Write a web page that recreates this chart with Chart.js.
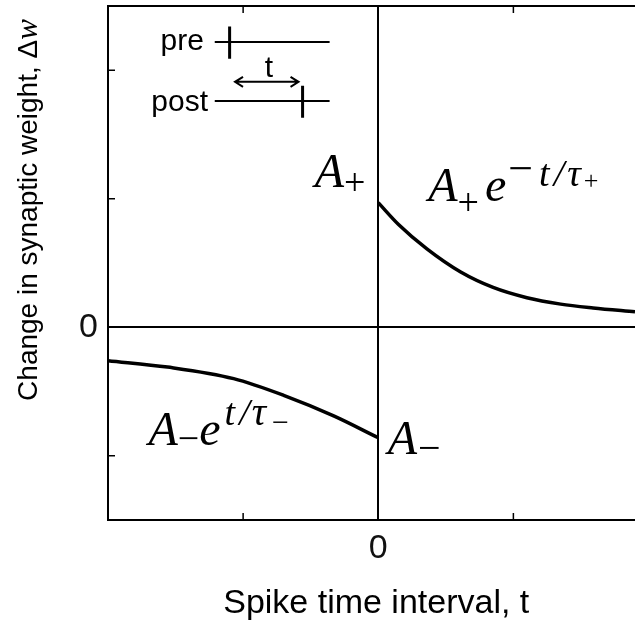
<!DOCTYPE html>
<html>
<head>
<meta charset="utf-8">
<script src="https://cdn.jsdelivr.net/npm/chart.js@4.4.1/dist/chart.umd.min.js"></script>
<style>
  html, body { margin: 0; padding: 0; background: #fff; }
  #wrap { width: 635px; height: 621px; }
</style>
</head>
<body>
<div id="wrap"><canvas id="stdpCanvas" width="635" height="621"></canvas></div>
<script>
// STDP window: weight change vs. spike time interval

// t > 0 branch (pre before post): potentiation A+ e^{-t/tau+}
const tPlus = [0, 0.15, 0.36, 0.61, 0.85, 1.1, 1.35, 1.59, 1.9];
const wPlus = [0.97, 0.80, 0.61, 0.43, 0.31, 0.23, 0.18, 0.15, 0.12];

// t < 0 branch (post before pre): depression A- e^{t/tau-}
const tMinus = [-2, -1.56, -1.07, -0.70, -0.33, 0];
const wMinus = [-0.26, -0.31, -0.40, -0.53, -0.69, -0.86];

// axes
const xTicks = [-1, 0, 1];
const yTicks = [-1, 0, 1, 2];
const tickLabels = { 0: '0' };
const xTitle = 'Spike time interval, t';
const yTitle = 'Change in synaptic weight, \u0394';

const SANS = '"Liberation Sans", Arial, sans-serif';
const SERIF = '"Liberation Serif", "Times New Roman", serif';

// draw a row of text pieces (math label) left to right
function drawRun(ctx, x0, base, parts) {
  let x = x0;
  parts.forEach(p => {
    ctx.font = (p.it ? 'italic ' : '') + p.size + 'px ' + (p.font || SERIF);
    ctx.fillText(p.s, x, base + (p.dy || 0));
    x += ctx.measureText(p.s).width + (p.gap || 0);
  });
  return x;
}

const stdpDecor = {
  id: 'stdpDecor',
  afterDraw(chart) {
    const { ctx, chartArea: a, scales: { x, y } } = chart;
    const px = v => x.getPixelForValue(v);
    const py = v => y.getPixelForValue(v);
    ctx.save();
    ctx.strokeStyle = '#000';
    ctx.fillStyle = '#000';
    ctx.textAlign = 'left';
    ctx.textBaseline = 'alphabetic';

    // top frame line
    ctx.lineWidth = 2;
    ctx.beginPath();
    ctx.moveTo(a.left, a.top);
    ctx.lineTo(a.right, a.top);
    ctx.stroke();

    // inward tick marks
    ctx.lineWidth = 1.5;
    ctx.beginPath();
    xTicks.filter(v => v !== 0).forEach(v => {
      ctx.moveTo(px(v), a.bottom); ctx.lineTo(px(v), a.bottom - 7);
      ctx.moveTo(px(v), a.top); ctx.lineTo(px(v), a.top + 7);
    });
    yTicks.filter(v => v !== 0).forEach(v => {
      ctx.moveTo(a.left, py(v)); ctx.lineTo(a.left + 7, py(v));
    });
    ctx.stroke();

    // inset: pre / post spike trains
    ctx.lineWidth = 2;
    ctx.beginPath();
    ctx.moveTo(px(-1.21), py(2.22)); ctx.lineTo(px(-0.36), py(2.22));
    ctx.moveTo(px(-1.21), py(1.76)); ctx.lineTo(px(-0.36), py(1.76));
    ctx.stroke();
    ctx.lineWidth = 3;
    ctx.beginPath();
    ctx.moveTo(px(-1.10), py(2.34)); ctx.lineTo(px(-1.10), py(2.09));
    ctx.moveTo(px(-0.56), py(1.88)); ctx.lineTo(px(-0.56), py(1.63));
    ctx.stroke();
    // double arrow for t
    const ay = py(1.91), ax0 = px(-1.06), ax1 = px(-0.59);
    ctx.lineWidth = 2;
    ctx.beginPath();
    ctx.moveTo(ax0, ay); ctx.lineTo(ax1, ay);
    ctx.moveTo(ax0 + 8, ay - 5); ctx.lineTo(ax0, ay); ctx.lineTo(ax0 + 8, ay + 5);
    ctx.moveTo(ax1 - 8, ay - 5); ctx.lineTo(ax1, ay); ctx.lineTo(ax1 - 8, ay + 5);
    ctx.stroke();
    ctx.font = '30px ' + SANS;
    ctx.textAlign = 'right';
    ctx.fillText('pre', px(-1.29), py(2.16));
    ctx.fillText('post', px(-1.26), py(1.68));
    ctx.textAlign = 'center';
    ctx.fillText('t', px(-0.81), py(1.95));
    ctx.textAlign = 'left';

    // formula labels
    const MINUS = '\u2212', TAU = '\u03c4';
    drawRun(ctx, px(-0.47), py(1.09), [
      { s: 'A', it: true, size: 48, gap: 0 },
      { s: '+', size: 38, dy: 8 }
    ]);
    drawRun(ctx, px(0.37), py(0.98), [
      { s: 'A', it: true, size: 48, gap: 0 },
      { s: '+', size: 38, dy: 14, gap: 6 },
      { s: 'e', it: true, size: 48, gap: 2 },
      { s: MINUS, size: 44, dy: -18, gap: 6 },
      { s: 't', it: true, size: 38, dy: -15, gap: 4 },
      { s: '/', it: true, size: 38, dy: -15, gap: 3 },
      { s: TAU, it: true, size: 38, dy: -15, gap: 3 },
      { s: '+', size: 26, dy: -12 }
    ]);
    drawRun(ctx, px(-1.70), py(-0.92), [
      { s: 'A', it: true, size: 48, gap: 0 },
      { s: MINUS, size: 38, dy: 6 },
      { s: 'e', it: true, size: 48, gap: 4 },
      { s: 't', it: true, size: 38, dy: -20, gap: 4 },
      { s: '/', it: true, size: 38, dy: -20, gap: 2 },
      { s: TAU, it: true, size: 40, dy: -20, gap: 6 },
      { s: MINUS, size: 30, dy: -13 }
    ]);
    drawRun(ctx, px(0.07), py(-0.99), [
      { s: 'A', it: true, size: 48, gap: 1 },
      { s: MINUS, size: 40, dy: 7 }
    ]);

    // axis titles
    ctx.font = '34px ' + SANS;
    ctx.textAlign = 'center';
    ctx.fillText(xTitle, px(0) - 2, chart.height - 8);

    ctx.save();
    ctx.translate(37, a.top + 204);
    ctx.rotate(-Math.PI / 2);
    ctx.font = '28px ' + SANS;
    const w1 = ctx.measureText(yTitle).width;
    ctx.font = 'italic 31px ' + SERIF;
    const w2 = ctx.measureText('w').width;
    ctx.textAlign = 'left';
    ctx.font = '28px ' + SANS;
    ctx.fillText(yTitle, -(w1 + w2) / 2, 0);
    ctx.font = 'italic 31px ' + SERIF;
    ctx.fillText('w', -(w1 + w2) / 2 + w1, 0);
    ctx.restore();

    ctx.restore();
  }
};

const zeroGrid = c => (c.tick && c.tick.value === 0 ? '#000' : 'rgba(0,0,0,0)');

new Chart(document.getElementById('stdpCanvas').getContext('2d'), {
  type: 'line',
  data: {
    datasets: [
      {
        label: 'A+ e^{-t/tau+}',
        data: tPlus.map((t, i) => ({ x: t, y: wPlus[i] })),
        borderColor: '#000',
        borderWidth: 3.5,
        pointRadius: 0,
        fill: false,
        cubicInterpolationMode: 'monotone'
      },
      {
        label: 'A- e^{t/tau-}',
        data: tMinus.map((t, i) => ({ x: t, y: wMinus[i] })),
        borderColor: '#000',
        borderWidth: 3.5,
        pointRadius: 0,
        fill: false,
        cubicInterpolationMode: 'monotone'
      }
    ]
  },
  options: {
    responsive: false,
    devicePixelRatio: 1,
    animation: false,
    layout: { padding: { top: 6, right: 0, left: 0, bottom: 0 } },
    plugins: { legend: { display: false }, tooltip: { enabled: false } },
    scales: {
      x: {
        type: 'linear',
        min: -2,
        max: 1.9,
        afterBuildTicks: s => { s.ticks = xTicks.map(v => ({ value: v })); },
        afterFit: s => { s.height = 101; s.paddingLeft = 0; s.paddingRight = 0; },
        ticks: {
          autoSkip: false,
          maxRotation: 0,
          padding: 8,
          color: '#111',
          font: { family: SANS, size: 34 },
          callback: v => tickLabels[v] || ''
        },
        grid: { color: zeroGrid, lineWidth: 2, drawTicks: false },
        border: { display: true, color: '#000', width: 2 }
      },
      y: {
        type: 'linear',
        min: -1.5,
        max: 2.5,
        afterBuildTicks: s => { s.ticks = yTicks.map(v => ({ value: v })); },
        afterFit: s => { s.width = 108; s.paddingTop = 0; s.paddingBottom = 0; },
        ticks: {
          autoSkip: false,
          padding: 10,
          color: '#111',
          font: { family: SANS, size: 34 },
          callback: v => tickLabels[v] || ''
        },
        grid: { color: zeroGrid, lineWidth: 2, drawTicks: false },
        border: { display: true, color: '#000', width: 2 }
      }
    }
  },
  plugins: [stdpDecor]
});
</script>
</body>
</html>
